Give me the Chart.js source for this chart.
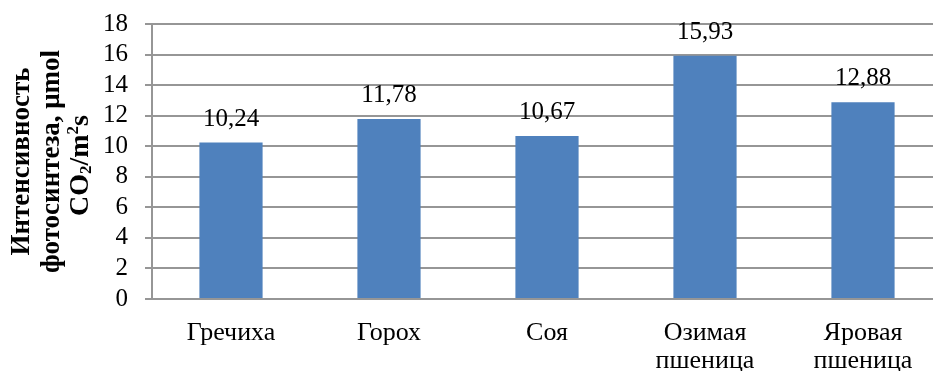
<!DOCTYPE html>
<html>
<head>
<meta charset="utf-8">
<title>Интенсивность фотосинтеза</title>
<script src="https://cdn.jsdelivr.net/npm/chart.js@4"></script>
<style>
  html,body{margin:0;padding:0;background:#fff;overflow:hidden}
  #wrap{width:942px;height:371px}
</style>
</head>
<body>
<div id="wrap"><canvas id="chart" width="942" height="371"></canvas></div>
<script>
// data
const categories = [['Гречиха'], ['Горох'], ['Соя'], ['Озимая','пшеница'], ['Яровая','пшеница']];
const values = [10.24, 11.78, 10.67, 15.93, 12.88];
const yMin = 0, yMax = 18, yStep = 2;
const titleLines = ['Интенсивность', 'фотосинтеза, μmol'];

(function(){
  const FONT = '"Liberation Serif", "Times New Roman", serif';
  const BAR = '#4F81BD';
  const GRID = '#969696';

  // value labels above bars, decimal comma
  const valueLabels = {
    id:'valueLabels',
    afterDatasetsDraw(chart){
      const ctx = chart.ctx;
      const meta = chart.getDatasetMeta(0);
      ctx.save();
      ctx.font = '25px '+FONT; ctx.fillStyle = '#000';
      ctx.textAlign = 'center'; ctx.textBaseline = 'alphabetic';
      meta.data.forEach((bar,i)=>{ ctx.fillText(values[i].toFixed(2).replace('.', ','), bar.x, bar.y - 17); });
      ctx.restore();
    }
  };

  // rotated y title, last line with sub/superscript
  const yTitle = {
    id:'yTitle',
    afterDraw(chart){
      const ctx = chart.ctx;
      const cy = (chart.chartArea.top + chart.chartArea.bottom)/2;
      const big = 'bold 27px '+FONT, big3 = 'bold 28px '+FONT, small = 'bold 17px '+FONT;
      ctx.save();
      ctx.fillStyle = '#000'; ctx.textBaseline = 'middle';
      const xs = [22, 52, 81];
      titleLines.forEach((t,i)=>{
        ctx.save(); ctx.translate(xs[i], cy); ctx.rotate(-Math.PI/2);
        ctx.font = big; ctx.textAlign = 'center'; ctx.fillText(t, 0, 0);
        ctx.restore();
      });
      const parts = [{t:'CO',f:big3,dy:0},{t:'2',f:small,dy:6},{t:'/m',f:big3,dy:0},{t:'2',f:small,dy:-7},{t:'s',f:big3,dy:0}];
      let w = 0;
      parts.forEach(p=>{ ctx.font = p.f; p.w = ctx.measureText(p.t).width; w += p.w; });
      ctx.translate(xs[2], cy + 4); ctx.rotate(-Math.PI/2);
      ctx.textAlign = 'left';
      let x = -w/2;
      parts.forEach(p=>{ ctx.font = p.f; ctx.fillText(p.t, x, p.dy); x += p.w; });
      ctx.restore();
    }
  };

  function draw(){
    new Chart(document.getElementById('chart'), {
      type:'bar',
      data:{ labels:categories, datasets:[{ data:values, backgroundColor:BAR, borderWidth:0, barPercentage:0.4, categoryPercentage:1 }] },
      options:{
        responsive:false, animation:false,
        layout:{ padding:{ top:24, right:0, bottom:0, left:0 } },
        plugins:{ legend:{display:false}, tooltip:{enabled:false} },
        scales:{
          x:{
            grid:{display:false},
            border:{display:true, color:GRID, width:2},
            ticks:{ color:'#000', font:{family:FONT, size:26, lineHeight:1.05}, padding:13, maxRotation:0, autoSkip:false },
            afterFit(s){ s.height = 72; }
          },
          y:{
            min:yMin, max:yMax,
            grid:{ color:GRID, lineWidth:2, tickLength:7, drawTicks:true },
            border:{display:true, color:GRID, width:2},
            ticks:{ stepSize:yStep, autoSkip:false, color:'#000', font:{family:FONT, size:25}, padding:17 },
            afterFit(s){ s.width = 152; s.paddingTop = 0; s.paddingBottom = 0; }
          }
        }
      },
      plugins:[valueLabels, yTitle]
    });
  }

  // make sure the serif faces are ready before the canvas draws
  Promise.all([
    document.fonts.load('25px "Liberation Serif"', 'Гречиха 0123'),
    document.fonts.load('bold 25px "Liberation Serif"', 'Интенсивность')
  ]).then(draw, draw);
})();
</script>
</body>
</html>
